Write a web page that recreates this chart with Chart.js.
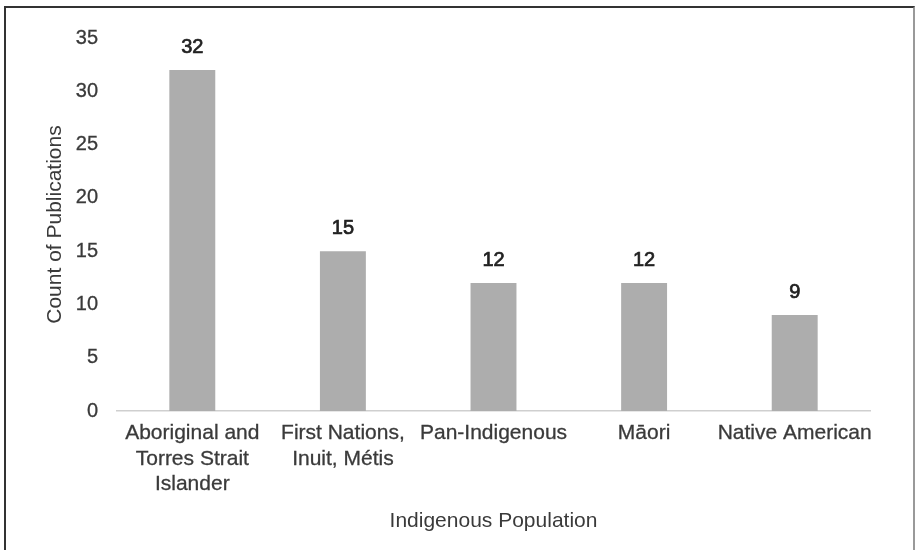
<!DOCTYPE html>
<html>
<head>
<meta charset="utf-8">
<script src="https://cdn.jsdelivr.net/npm/chart.js@4.4.1/dist/chart.umd.min.js"></script>
<style>
    html, body { margin: 0; padding: 0; background: #fff; }
    #wrap { position: relative; width: 916px; height: 550px; overflow: hidden; }
    #chart { position: absolute; left: 0; top: 0; }
    #frame {
        position: absolute; left: 4px; top: 6px; width: 907px; height: 600px;
        border-top: 2px solid #333; border-left: 2px solid #333; border-right: 2px solid #999;
        pointer-events: none;
    }
</style>
</head>
<body>
<div id="wrap">
    <canvas id="chart" width="916" height="550"></canvas>
    <div id="frame"></div>
</div>
<script>
    const populations = [
        ['Aboriginal and', 'Torres Strait', 'Islander'],
        ['First Nations,', 'Inuit, Métis'],
        'Pan-Indigenous',
        'Māori',
        'Native American'
    ];
    const publicationCounts = [32, 15, 12, 12, 9];
    const yTicks = [0, 5, 10, 15, 20, 25, 30, 35];

    const textColor = '#3a3a3a';
    const fontFamily = '"Liberation Sans", Arial, Helvetica, sans-serif';

    // writes the count above each bar
    const barValues = {
        id: 'barValues',
        afterDatasetsDraw(chart) {
            const ctx = chart.ctx;
            const meta = chart.getDatasetMeta(0);
            ctx.save();
            ctx.font = '20px ' + fontFamily;
            ctx.fillStyle = '#222';
            ctx.strokeStyle = '#222';
            ctx.lineWidth = 0.7;
            ctx.textAlign = 'center';
            ctx.textBaseline = 'alphabetic';
            meta.data.forEach((bar, i) => {
                const txt = String(chart.data.datasets[0].data[i]);
                ctx.fillText(txt, bar.x, bar.y - 17);
                ctx.strokeText(txt, bar.x, bar.y - 17);
            });
            ctx.restore();
        }
    };

    new Chart(document.getElementById('chart').getContext('2d'), {
        type: 'bar',
        data: {
            labels: populations,
            datasets: [{
                data: publicationCounts,
                backgroundColor: '#adadad',
                borderWidth: 0,
                categoryPercentage: 1,
                barPercentage: 0.305
            }]
        },
        options: {
            responsive: false,
            animation: false,
            layout: { padding: { left: 0, right: 46, top: 38, bottom: 0 } },
            plugins: {
                legend: { display: false },
                tooltip: { enabled: false }
            },
            scales: {
                x: {
                    grid: { color: 'transparent', drawTicks: false },
                    border: { display: true, color: '#cfcfcf', width: 1.5 },
                    ticks: {
                        color: textColor,
                        font: { family: fontFamily, size: 21 },
                        textStrokeColor: textColor,
                        textStrokeWidth: 0.3,
                        padding: 10,
                        maxRotation: 0,
                        autoSkip: false
                    },
                    title: {
                        display: true,
                        text: 'Indigenous Population',
                        color: textColor,
                        font: { family: fontFamily, size: 21 },
                        padding: { top: 0, bottom: 16 }
                    },
                    afterFit(scale) { scale.height = 139; }
                },
                y: {
                    min: 0,
                    max: 35,
                    grid: { display: false, drawTicks: false },
                    border: { display: false },
                    afterBuildTicks(scale) { scale.ticks = yTicks.map(v => ({ value: v })); },
                    ticks: {
                        color: textColor,
                        font: { family: fontFamily, size: 20 },
                        textStrokeColor: textColor,
                        textStrokeWidth: 0.3,
                        padding: 19
                    },
                    title: {
                        display: true,
                        text: 'Count of Publications',
                        color: textColor,
                        font: { family: fontFamily, size: 21 },
                        padding: { top: 43, bottom: 0 }
                    },
                    afterFit(scale) { scale.width = 117; }
                }
            }
        },
        plugins: [barValues]
    });
</script>
</body>
</html>
